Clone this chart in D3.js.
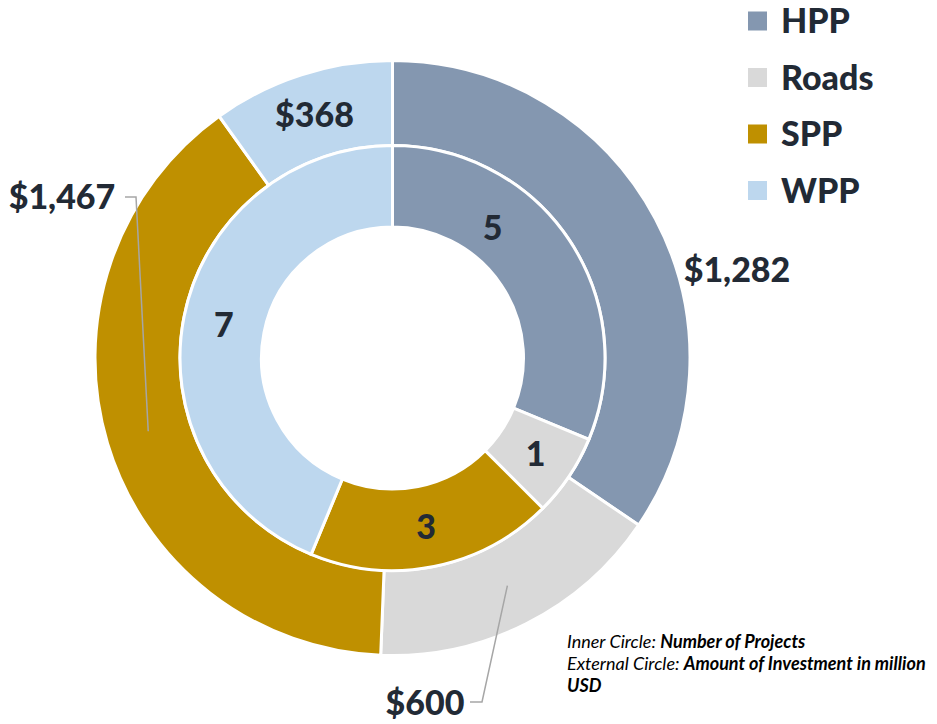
<!DOCTYPE html>
<html>
<head>
<meta charset="utf-8">
<script src="https://cdn.jsdelivr.net/npm/d3@7"></script>
<style>
  body { margin: 0; background: #fff; }
  svg text { font-family: Lato, "Open Sans", sans-serif; }
</style>
</head>
<body>
<div class="chart"></div>
<script>
var categories = ["HPP", "Roads", "SPP", "WPP"];
var projects = [5, 1, 3, 7];            // inner ring
var investment = [1282, 600, 1467, 368]; // outer ring, million USD
var colors = ["#8497B0", "#D9D9D9", "#BF9000", "#BDD7EE"];

var width = 937, height = 724;
var cx = 392.5, cy = 358;
var textColor = "#222A35";
var labelWeight = 900;

var svg = d3.select(".chart").append("svg")
  .attr("width", width)
  .attr("height", height);

var g = svg.append("g").attr("transform", `translate(${cx},${cy})`);

var pie = d3.pie().sort(null).value(d => d.v);
var color = d3.scaleOrdinal().domain(categories).range(colors);

var innerData = pie(categories.map((c, i) => ({ c: c, v: projects[i] })));
var outerData = pie(categories.map((c, i) => ({ c: c, v: investment[i] })));

var innerArc = d3.arc().innerRadius(131).outerRadius(212.5);
var outerArc = d3.arc().innerRadius(212.5).outerRadius(297.5);

// rings
g.append("g").selectAll("path")
  .data(outerData)
  .join("path")
  .attr("d", outerArc)
  .attr("fill", d => color(d.data.c))
  .attr("stroke", "#fff")
  .attr("stroke-width", 3);

g.append("g").selectAll("path")
  .data(innerData)
  .join("path")
  .attr("d", innerArc)
  .attr("fill", d => color(d.data.c))
  .attr("stroke", "#fff")
  .attr("stroke-width", 3);

function polar(angle, r) {
  return [r * Math.sin(angle), -r * Math.cos(angle)];
}

// inner labels (HPP label was moved toward the top)
g.append("g").selectAll("text")
  .data(innerData)
  .join("text")
  .attr("transform", d => {
    var a = d.data.c == "HPP" ? 37.6 * Math.PI / 180 : (d.startAngle + d.endAngle) / 2;
    var p = polar(a, d.data.c == "HPP" ? 164 : 172);
    return `translate(${p[0]},${p[1]})`;
  })
  .attr("text-anchor", "middle")
  .attr("dy", "0.36em")
  .attr("font-size", 34)
  .attr("font-weight", labelWeight)
  .attr("fill", textColor)
  .text(d => d.data.v);

// outer labels
var fmt = d3.format(",");
var labelPos = {
  HPP: { x: 737, y: 270, leader: false },
  Roads: { x: 425, y: 703, leader: true, elbow: [482, 702], end: [470, 702] },
  SPP: { x: 62, y: 197, leader: true, elbow: [136, 197], end: [125, 197] },
  WPP: { x: null, y: null, leader: false }
};

outerData.forEach(d => {
  var lp = labelPos[d.data.c];
  var mid = (d.startAngle + d.endAngle) / 2;
  var c = polar(mid, 255);
  var x = lp.x == null ? cx + c[0] : lp.x;
  var y = lp.y == null ? cy + c[1] : lp.y;
  if (lp.leader) {
    svg.append("polyline")
      .attr("points", [[cx + c[0], cy + c[1]], lp.elbow, lp.end].map(p => p.join(",")).join(" "))
      .attr("fill", "none")
      .attr("stroke", "#A6A6A6")
      .attr("stroke-width", 1.5);
  }
  svg.append("text")
    .attr("x", x)
    .attr("y", y)
    .attr("text-anchor", "middle")
    .attr("dy", "0.36em")
    .attr("font-size", 34)
    .attr("font-weight", labelWeight)
    .attr("fill", textColor)
    .text("$" + fmt(d.data.v));
});

// legend
var legend = svg.append("g").attr("transform", "translate(748,0)");
var row = legend.selectAll("g")
  .data(categories)
  .join("g")
  .attr("transform", (d, i) => `translate(0,${21 + i * 56.5})`);
row.append("rect")
  .attr("x", 0).attr("y", -9.5)
  .attr("width", 19).attr("height", 19)
  .attr("fill", d => color(d));
row.append("text")
  .attr("x", 33)
  .attr("dy", "0.36em")
  .attr("font-size", 34)
  .attr("font-weight", labelWeight)
  .attr("fill", textColor)
  .text(d => d);

// note
var lines = [
  ["Inner Circle: ", "Number of Projects"],
  ["External Circle: ", "Amount of Investment in million"],
  ["", "USD"]
];
lines.forEach((l, i) => {
  var t = svg.append("text")
    .attr("x", 567)
    .attr("y", 648 + i * 22)
    .attr("font-size", 18)
    .attr("font-style", "italic")
    .attr("fill", "#000")
    .attr("textLength", null);
  t.append("tspan").text(l[0]);
  t.append("tspan").attr("font-weight", "bold").text(l[1]);
});
</script>
</body>
</html>
